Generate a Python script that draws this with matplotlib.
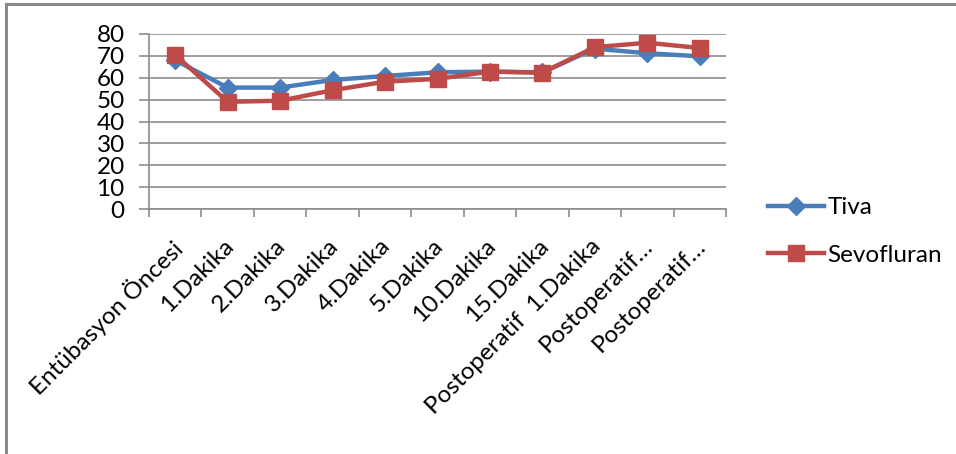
import matplotlib
matplotlib.use("Agg")
import matplotlib.pyplot as plt
from matplotlib.lines import Line2D
from matplotlib.transforms import ScaledTranslation
import numpy as np

categories = [
    "Entübasyon Öncesi", "1.Dakika", "2.Dakika", "3.Dakika", "4.Dakika",
    "5.Dakika", "10.Dakika", "15.Dakika", "Postoperatif  1.Dakika",
    "Postoperatif…", "Postoperatif…",
]
tiva = [68, 55.5, 55.5, 59, 60.8, 62.5, 62.8, 62.5, 73.3, 71.2, 69.8]
sevofluran = [70.4, 49, 49.5, 54.3, 58.2, 59.5, 62.8, 62.3, 74, 76, 73.6]
y_ticks = [0, 10, 20, 30, 40, 50, 60, 70, 80]

BLUE = "#4A7EBB"
RED = "#BE4B48"
GRID = "#8C8C8C"

plt.rcParams["font.family"] = ["Lato", "DejaVu Sans"]

fig = plt.figure(figsize=(9.56, 4.54), dpi=100)
ax = fig.add_axes([149 / 956, 1 - 209 / 454, 577 / 956, 175 / 454])

x = np.arange(len(categories))
ax.plot(x, tiva, color=BLUE, lw=3.2, marker="D", ms=9.5,
        markerfacecolor=BLUE, markeredgecolor=BLUE, zorder=3, label="Tiva")
ax.plot(x, sevofluran, color=RED, lw=3.2, marker="s", ms=12,
        markerfacecolor=RED, markeredgecolor=RED, zorder=4, label="Sevofluran")

ax.set_xlim(-0.5, len(categories) - 0.5)
ax.set_ylim(0, 80)
ax.set_yticks(y_ticks)
ax.yaxis.grid(True, color=GRID, lw=1.2)
ax.set_axisbelow(True)
ax.tick_params(axis="y", length=7.5, width=1.2, color=GRID, labelsize=17.5, pad=10)

ax.set_xticks(x)
ax.set_xticklabels(categories, rotation=45, ha="right", va="top",
                   rotation_mode="anchor", fontsize=17.5)
ax.set_xticks(np.arange(-0.5, len(categories)), minor=True)
ax.tick_params(axis="x", which="major", length=0, pad=19)
ax.tick_params(axis="x", which="minor", length=6, width=1.2, color=GRID)
shift = ScaledTranslation(-5 / 100, 0, fig.dpi_scale_trans)
for lbl in ax.get_xticklabels():
    lbl.set_transform(lbl.get_transform() + shift)

for side in ("top", "right"):
    ax.spines[side].set_visible(False)
for side in ("left", "bottom"):
    ax.spines[side].set_color(GRID)
    ax.spines[side].set_linewidth(1.2)

handles = [
    Line2D([], [], color=BLUE, lw=3.2, marker="D", ms=9.5),
    Line2D([], [], color=RED, lw=3.2, marker="s", ms=12),
]
fig.legend(handles, ["Tiva", "Sevofluran"], loc="upper left",
           bbox_to_anchor=(756 / 956, 1 - 185 / 454), frameon=False,
           fontsize=17.5, handlelength=2.3, handletextpad=0.15,
           labelspacing=1.1, borderpad=0)

# chart area frame (top and left edges)
fig.add_artist(Line2D([6 / 956, 1], [1 - 4 / 454, 1 - 4 / 454],
                      transform=fig.transFigure, color="#8A8A8A", lw=2.2))
fig.add_artist(Line2D([6 / 956, 6 / 956], [0, 1 - 4 / 454],
                      transform=fig.transFigure, color="#8A8A8A", lw=2.2))

fig.savefig("out.png", dpi=100)
